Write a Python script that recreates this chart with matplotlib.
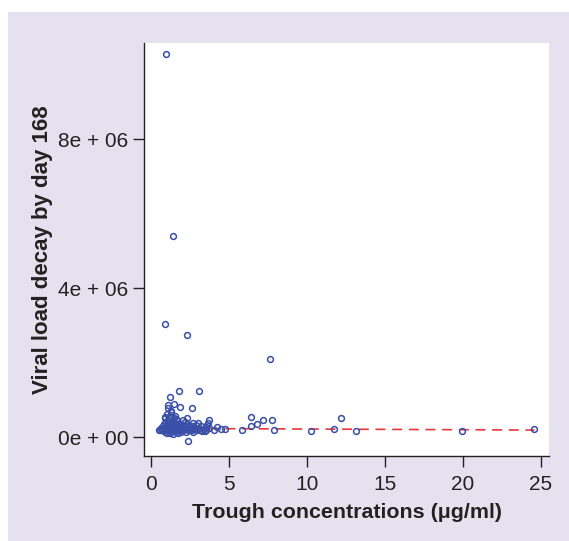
import matplotlib
matplotlib.use("Agg")
import matplotlib.pyplot as plt
from matplotlib.patches import Rectangle

plt.rcParams['font.family'] = ['Liberation Sans', 'DejaVu Sans']

# trough concentration (ug/ml) and viral load decay (copies, in millions)
conc = [0.96, 1.41, 0.90, 2.31, 7.63, 1.82, 3.10, 1.20, 1.50, 1.85,
        2.65, 1.11, 1.11, 1.26, 0.89, 2.31, 2.71, 3.03, 3.74, 3.67,
        2.39, 0.49, 3.46, 4.04, 4.25, 4.48, 4.77, 5.83, 6.41, 6.41,
        6.82, 7.17, 7.76, 7.87, 10.24, 11.76, 12.19, 13.17, 19.97, 24.57,
        0.55, 0.62, 0.70, 0.75, 0.80, 0.85, 0.88, 0.90, 0.95, 0.98,
        1.00, 1.02, 1.05, 1.08, 1.10, 1.12, 1.15, 1.18, 1.20, 1.22,
        1.25, 1.28, 1.30, 1.32, 1.35, 1.38, 1.40, 1.42, 1.45, 1.48,
        1.50, 1.52, 1.55, 1.58, 1.60, 1.62, 1.65, 1.68, 1.70, 1.72,
        1.75, 1.78, 1.80, 1.85, 1.88, 1.90, 1.95, 2.00, 2.05, 2.10,
        2.15, 2.20, 2.25, 2.30, 2.35, 2.40, 2.45, 2.50, 2.55, 2.60,
        2.65, 2.70, 2.75, 2.85, 2.90, 2.95, 3.05, 3.15, 3.20, 3.30,
        3.40, 3.50, 3.55, 3.60, 3.70, 0.92, 1.15, 1.30, 1.45, 1.62,
        2.05, 2.20, 1.00, 1.25, 1.55]
decay = [10.28, 5.40, 3.04, 2.74, 2.10, 1.24, 1.24, 1.08, 0.90, 0.81,
         0.79, 0.85, 0.78, 0.67, 0.55, 0.50, 0.39, 0.37, 0.46, 0.37,
         -0.10, 0.18, 0.17, 0.19, 0.26, 0.21, 0.23, 0.19, 0.55, 0.31,
         0.35, 0.46, 0.46, 0.19, 0.17, 0.21, 0.52, 0.16, 0.17, 0.22,
         0.20, 0.25, 0.18, 0.30, 0.22, 0.35, 0.15, 0.28, 0.40, 0.20,
         0.32, 0.12, 0.25, 0.45, 0.18, 0.30, 0.38, 0.22, 0.10, 0.28,
         0.35, 0.16, 0.24, 0.42, 0.30, 0.20, 0.08, 0.33, 0.26, 0.18,
         0.38, 0.22, 0.30, 0.14, 0.27, 0.35, 0.20, 0.45, 0.24, 0.12,
         0.31, 0.19, 0.28, 0.36, 0.22, 0.15, 0.30, 0.25, 0.18, 0.33,
         0.22, 0.28, 0.14, 0.35, 0.20, 0.26, 0.31, 0.18, 0.24, 0.30,
         0.20, 0.15, 0.27, 0.22, 0.32, 0.18, 0.25, 0.20, 0.30, 0.17,
         0.23, 0.28, 0.19, 0.32, 0.25, 0.50, 0.55, 0.60, 0.52, 0.48,
         0.45, 0.40, 0.62, 0.70, 0.58]

# fitted line end points
fit_x = [0.5, 24.6]
fit_y = [0.235, 0.19]

yticks = [0, 4e6, 8e6]
ytick_labels = ['0e + 00', '4e + 06', '8e + 06']
xticks = [0, 5, 10, 15, 20, 25]

W, H = 569, 541
fig = plt.figure(figsize=(W / 100, H / 100), dpi=100)
fig.patch.set_facecolor('white')
fig.patches.append(Rectangle((8 / W, 0), 1, (H - 12) / H, transform=fig.transFigure,
                             facecolor='#e6e1ef', edgecolor='none', zorder=-5))

ax = fig.add_axes([144 / W, (H - 456) / H, (549 - 144) / W, (456 - 43) / H])
ax.set_zorder(2)
ax.set_facecolor('white')

ax.plot(fit_x, [v * 1e6 for v in fit_y], color='#e8383d', lw=1.2,
        dashes=(6, 4), zorder=2)
ax.plot(conc, [v * 1e6 for v in decay], 'o', ms=4.2, mfc='none',
        mec='#3a4fa8', mew=1.1, zorder=3)

ax.set_xlim(-0.45, 25.53)
ax.set_ylim(-0.507e6, 10.58e6)
ax.set_xticks(xticks)
ax.set_yticks(yticks)
ax.set_yticklabels(ytick_labels)

for s in ['top', 'right']:
    ax.spines[s].set_visible(False)
for s in ['left', 'bottom']:
    ax.spines[s].set_linewidth(1.0)
    ax.spines[s].set_color('#222222')

ax.tick_params(direction='out', length=8, width=1.0, color='#222222',
               labelsize=15, labelcolor='#222222')
ax.tick_params(axis='x', pad=6)
ax.tick_params(axis='y', pad=3)

ax.set_xlabel('Trough concentrations (μg/ml)', fontsize=15.4,
              fontweight='bold', color='#222222', labelpad=6)
ax.set_ylabel('Viral load decay by day 168', fontsize=16,
              fontweight='bold', color='#222222', labelpad=4)

fig.savefig('out.png', dpi=100)
